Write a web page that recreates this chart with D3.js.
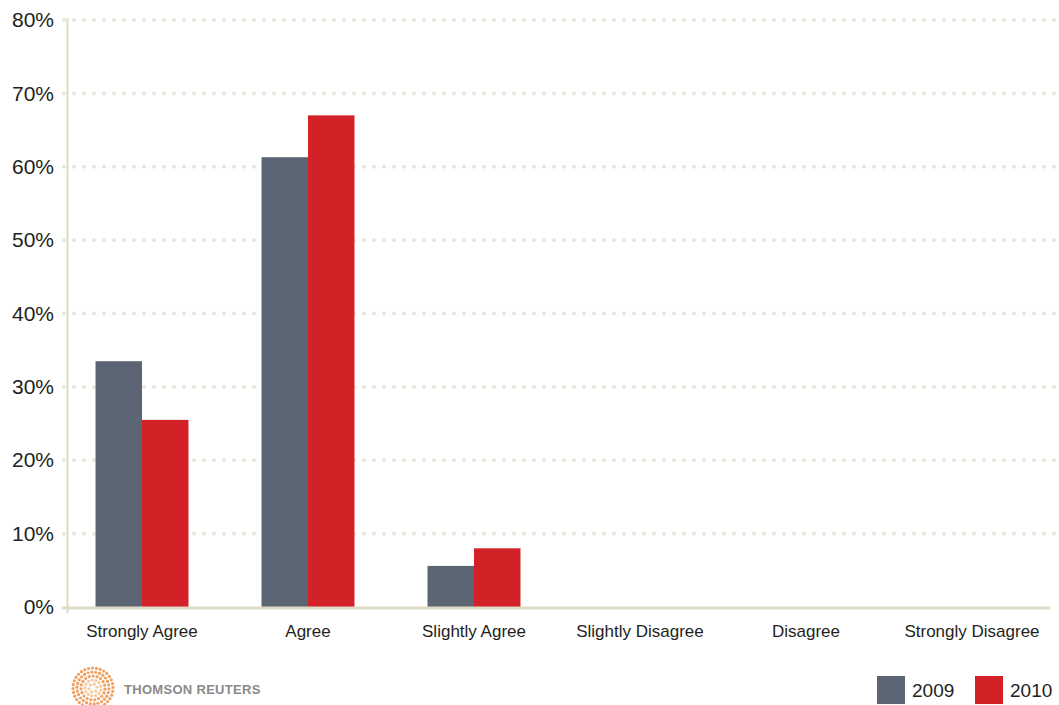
<!DOCTYPE html>
<html>
<head>
<meta charset="utf-8">
<script src="https://d3js.org/d3.v7.min.js"></script>
<style>
    html, body { margin: 0; padding: 0; background: white; }
    svg { display: block; font-family: 'Liberation Sans', Arial, sans-serif; }
    text { fill: #231f20; }
</style>
</head>
<body>
<svg id="chart" width="1059" height="705"></svg>
<script>

// DATA
let categories = ['Strongly Agree', 'Agree', 'Slightly Agree', 'Slightly Disagree', 'Disagree', 'Strongly Disagree']
let years = ['2009', '2010']
let values2009 = [33.5, 61.3, 5.6, 0, 0, 0]
let values2010 = [25.5, 67.0, 8.0, 0, 0, 0]
let yTicks = [0, 10, 20, 30, 40, 50, 60, 70, 80]
let colors = ['#5b6573', '#d32227']

let svg = d3.select('#chart')

let y = d3.scaleLinear().domain([0, 80]).range([607, 20])
let x = d3.scaleBand().domain(categories).range([59, 1055]).paddingInner(0.44).paddingOuter(0.22)
let xs = d3.scaleBand().domain(years).range([0, x.bandwidth()])

// dotted gridlines
yTicks.slice(1).forEach(t => {
    svg.append('line')
        .attr('x1', 64).attr('x2', 1055)
        .attr('y1', y(t)).attr('y2', y(t))
        .attr('stroke', '#e8e6db')
        .attr('stroke-width', 4)
        .attr('stroke-linecap', 'round')
        .attr('stroke-dasharray', '0 10')
})

// bars
let series = [values2009, values2010]
series.forEach((vals, i) => {
    svg.append('g').selectAll('rect')
        .data(vals)
        .join('rect')
        .attr('x', (d, j) => x(categories[j]) + xs(years[i]))
        .attr('width', xs.bandwidth())
        .attr('y', d => y(d))
        .attr('height', d => y(0) - y(d))
        .attr('fill', colors[i])
})

// axis lines
svg.append('line')
    .attr('x1', 67.5).attr('x2', 67.5).attr('y1', 18).attr('y2', 613)
    .attr('stroke', '#dfdac4').attr('stroke-width', 2)
svg.append('line')
    .attr('x1', 62).attr('x2', 1050).attr('y1', y(0) + 1).attr('y2', y(0) + 1)
    .attr('stroke', '#dfdac4').attr('stroke-width', 3)

// y tick labels
let yAxis = svg.append('g').attr('transform', 'translate(54,0)')
    .call(d3.axisLeft(y).tickValues(yTicks).tickSize(0).tickFormat(d => d + '%'))
yAxis.select('.domain').remove()
yAxis.selectAll('text').attr('x', 0).attr('font-size', 21).attr('fill', '#231f20')
    .attr('font-family', "'Liberation Sans', Arial, sans-serif")

// x labels
let xAxis = svg.append('g').attr('transform', 'translate(0,' + 622 + ')')
    .call(d3.axisBottom(x).tickSize(0))
xAxis.select('.domain').remove()
xAxis.selectAll('text').attr('y', 3).attr('font-size', 17).attr('fill', '#231f20')
    .attr('font-family', "'Liberation Sans', Arial, sans-serif")

// legend
let legend = svg.append('g')
let legX = [877, 975]
years.forEach((yr, i) => {
    legend.append('rect')
        .attr('x', legX[i]).attr('y', 676).attr('width', 28).attr('height', 28)
        .attr('fill', colors[i])
    legend.append('text')
        .attr('x', legX[i] + 35).attr('y', 697)
        .attr('font-size', 19)
        .text(yr)
})

// logo
let logo = svg.append('g').attr('transform', 'translate(93,688)')
for (let r = 4; r <= 20; r += 4) {
    let n = Math.round(r * 1.6)
    for (let k = 0; k < n; k++) {
        let a = k / n * Math.PI * 2 + r
        logo.append('circle')
            .attr('cx', Math.cos(a) * r).attr('cy', Math.sin(a) * r)
            .attr('r', 1.6)
            .attr('fill', r > 8 ? '#f0a060' : '#f6c9a0')
    }
}
svg.append('text')
    .attr('x', 124).attr('y', 694)
    .attr('font-size', 13).attr('font-weight', 'bold')
    .style('fill', '#8a8a8a')
    .attr('letter-spacing', 0.3)
    .text('THOMSON REUTERS')

</script>
</body>
</html>
